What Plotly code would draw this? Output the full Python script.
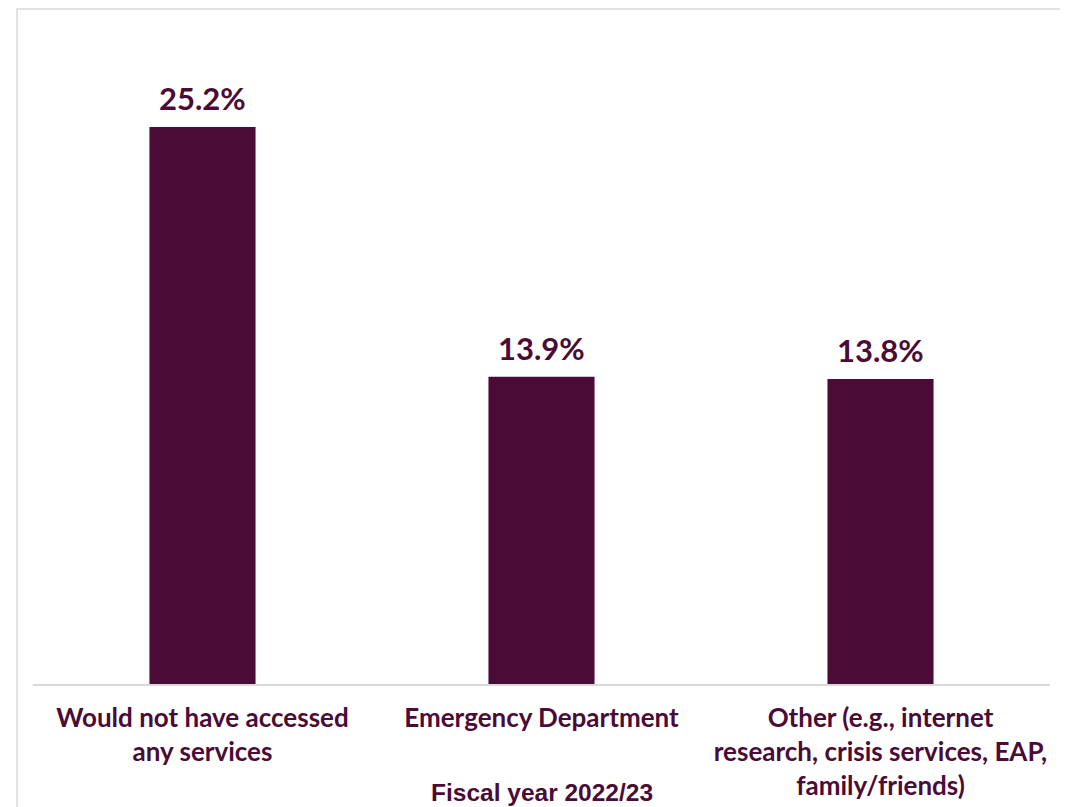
import plotly.graph_objects as go

categories = [
    "Would not have accessed<br>any services",
    "Emergency Department",
    "Other (e.g., internet<br>research, crisis services, EAP,<br>family/friends)",
]
values = [25.2, 13.9, 13.8]
value_labels = ["25.2%", "13.9%", "13.8%"]
xaxis_title = "Fiscal year 2022/23"

PURPLE = "#4A0C37"

fig = go.Figure(
    go.Bar(
        x=categories,
        y=values,
        marker=dict(color=PURPLE, line=dict(width=0)),
        hoverinfo="x+y",
    )
)

for cat, val, lab in zip(categories, values, value_labels):
    fig.add_annotation(
        x=cat, y=val, xref="x", yref="y",
        text="<b>" + lab + "</b>",
        showarrow=False,
        xanchor="center", yanchor="bottom",
        yshift=8,
        font=dict(family="Lato", size=31, color=PURPLE),
    )

fig.update_layout(
    width=1060,
    height=799,
    margin=dict(l=25, r=18, t=57, b=123),
    paper_bgcolor="white",
    plot_bgcolor="white",
    bargap=0.687,
    showlegend=False,
    font=dict(family="Lato", color=PURPLE),
)

fig.update_xaxes(
    showline=True,
    linecolor="#d9d9d9",
    linewidth=1.5,
    showgrid=False,
    ticks="",
    tickfont=dict(family="Lato", size=26, color=PURPLE, weight="bold"),
    tickangle=0,
    ticklabelstandoff=10,
    automargin=False,
)
fig.update_yaxes(
    range=[0, 28],
    visible=False,
    showgrid=False,
    zeroline=False,
)

fig.add_annotation(
    text="<b>" + xaxis_title + "</b>",
    xref="paper", yref="paper",
    x=0.5, y=-0.176,
    xanchor="center", yanchor="middle",
    showarrow=False,
    font=dict(family="Liberation Sans, Arial", size=24.5, color=PURPLE),
)

fig.add_shape(
    type="rect",
    xref="paper", yref="paper",
    x0=-0.0157, x1=1.0147, y0=-0.25, y1=1.0905,
    line=dict(color="#d9d9d9", width=1.5),
    fillcolor="rgba(0,0,0,0)",
    layer="below",
)

fig.write_html("out.html")
